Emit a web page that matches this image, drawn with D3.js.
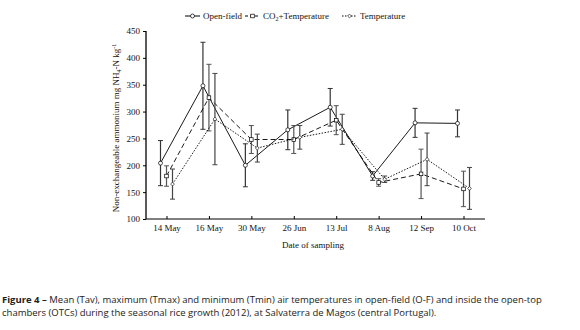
<!DOCTYPE html>
<html><head><meta charset="utf-8">
<script src="https://cdn.jsdelivr.net/npm/d3@7"></script>
<style>body{margin:0;background:#fff}svg{display:block}</style>
</head><body><svg id="c" width="580" height="330"></svg>
<script>
const categories = ["14 May","16 May","30 May","26 Jun","13 Jul","8 Aug","12 Sep","10 Oct"];
const openField    = [204, 348, 200, 266, 308, 180, 279, 278];
const openFieldErr = [42, 81, 40, 37, 35, 8, 27, 25];
const co2Temp      = [180, 326, 248, 248, 284, 168, 184, 156];
const co2TempErr   = [19, 62, 26, 26, 27, 7, 46, 33];
const temperature  = [165, 286, 232, 252, 267, 174, 211, 157];
const temperatureErr = [28, 85, 26, 22, 28, 6, 49, 39];
const yTicks = [100, 150, 200, 250, 300, 350, 400, 450];

const svg = d3.select("#c");
const serif = "'Liberation Serif','Times New Roman',serif";
const x = d3.scalePoint().domain(categories).range([166.5, 463.5]);
const y = d3.scaleLinear().domain([100, 450]).range([219, 31]);
const X0 = 146, X1 = 485;

// axes
const gx = svg.append("g").attr("transform", `translate(0,${y(100)})`)
  .call(d3.axisBottom(x).tickSizeInner(-3).tickSizeOuter(0).tickPadding(6));
gx.select(".domain").attr("d", `M${X0},0H${X1}`).attr("stroke", "#000");
gx.selectAll("text").attr("font-family", serif).attr("font-size", 9).attr("fill", "#111");
const gy = svg.append("g").attr("transform", `translate(${X0},0)`)
  .call(d3.axisLeft(y).tickValues(yTicks).tickSize(3).tickPadding(3).tickFormat(d3.format("d")));
gy.select(".domain").attr("d", `M0,${y(450)}V${y(100)}`).attr("stroke", "#000").attr("stroke-width", 1.3);
gy.selectAll("text").attr("font-family", serif).attr("font-size", 9).attr("fill", "#111");

// y title
const yt = svg.append("text").attr("transform", "translate(119,128) rotate(-90)")
  .attr("text-anchor", "middle").attr("font-family", serif).attr("font-size", 9).attr("fill", "#111");
yt.append("tspan").text("Non-exchangeable ammonium mg NH");
yt.append("tspan").attr("font-size", 6).attr("dy", 2).text("4");
yt.append("tspan").attr("dy", -2).text("-N kg");
yt.append("tspan").attr("font-size", 6).attr("dy", -3).text("-1");

// x title
svg.append("text").attr("x", 313).attr("y", 248).attr("text-anchor", "middle")
  .attr("font-family", serif).attr("font-size", 9).attr("fill", "#111").text("Date of sampling");

const series = [
  {vals: openField, err: openFieldErr, off: -6, dash: null, marker: "circle", ec: "#333"},
  {vals: co2Temp, err: co2TempErr, off: 0, dash: "5,3", marker: "square", ec: "#555"},
  {vals: temperature, err: temperatureErr, off: 6, dash: "1.5,1.5", marker: "diamond", ec: "#444"}
];

function marker(g, type, cx, cy) {
  if (type === "circle") g.append("circle").attr("cx", cx).attr("cy", cy).attr("r", 2)
    .attr("fill", "#fff").attr("stroke", "#000").attr("stroke-width", 0.7);
  else if (type === "square") g.append("rect").attr("x", cx - 1.8).attr("y", cy - 1.8).attr("width", 3.6).attr("height", 3.6)
    .attr("fill", "#fff").attr("stroke", "#000").attr("stroke-width", 0.7);
  else g.append("path").attr("d", `M${cx},${cy-1.9}L${cx+1.9},${cy}L${cx},${cy+1.9}L${cx-1.9},${cy}Z`)
    .attr("fill", "#fff").attr("stroke", "#000").attr("stroke-width", 0.6);
}

series.forEach(s => {
  const g = svg.append("g");
  const line = d3.line().x((d, i) => x(categories[i]) + s.off).y(d => y(d));
  g.append("path").datum(s.vals).attr("d", line).attr("fill", "none").attr("stroke", "#000")
    .attr("stroke-width", 0.9).attr("stroke-dasharray", s.dash);
  s.vals.forEach((v, i) => {
    const cx = x(categories[i]) + s.off;
    const t = y(v + s.err[i]), b = y(v - s.err[i]);
    g.append("line").attr("x1", cx).attr("x2", cx).attr("y1", t).attr("y2", b).attr("stroke", s.ec).attr("stroke-width", 1.2);
    g.append("line").attr("x1", cx - 2.5).attr("x2", cx + 2.5).attr("y1", t).attr("y2", t).attr("stroke", s.ec).attr("stroke-width", 1);
    g.append("line").attr("x1", cx - 2.5).attr("x2", cx + 2.5).attr("y1", b).attr("y2", b).attr("stroke", s.ec).attr("stroke-width", 1);
  });
  s.vals.forEach((v, i) => marker(g, s.marker, x(categories[i]) + s.off, y(v)));
});

// legend
const legend = [
  {label: ["Open-field"], x: 185, dash: null, marker: "circle"},
  {label: ["CO", "2", "+Temperature"], x: 245, dash: "3,2", marker: "square"},
  {label: ["Temperature"], x: 342, dash: "1.5,1.5", marker: "diamond"}
];
const ly = 16;
legend.forEach(l => {
  const g = svg.append("g");
  g.append("line").attr("x1", l.x).attr("x2", l.x + 15).attr("y1", ly).attr("y2", ly)
    .attr("stroke", "#000").attr("stroke-width", 1).attr("stroke-dasharray", l.dash);
  marker(g, l.marker, l.x + 7.5, ly);
  const t = g.append("text").attr("x", l.x + 18).attr("y", ly + 3)
    .attr("font-family", serif).attr("font-size", 9).attr("fill", "#111");
  if (l.label.length > 1) {
    t.append("tspan").text(l.label[0]);
    t.append("tspan").attr("font-size", 6).attr("dy", 2).text(l.label[1]);
    t.append("tspan").attr("dy", -2).text(l.label[2]);
  } else t.text(l.label[0]);
});

// caption
const sans = "'Open Sans','Noto Sans',sans-serif";
const c1 = svg.append("text").attr("x", 2).attr("y", 303).attr("font-family", sans).attr("font-size", 9.5).attr("fill", "#222");
c1.append("tspan").attr("font-weight", "bold").text("Figure 4 \u2013");
c1.append("tspan").text(" Mean (Tav), maximum (Tmax) and minimum (Tmin) air temperatures in open-field (O-F) and inside the open-top");
svg.append("text").attr("x", 2).attr("y", 316).attr("font-family", sans).attr("font-size", 9.5).attr("fill", "#222")
  .text("chambers (OTCs) during the seasonal rice growth (2012), at Salvaterra de Magos (central Portugal).");
</script></body></html>
